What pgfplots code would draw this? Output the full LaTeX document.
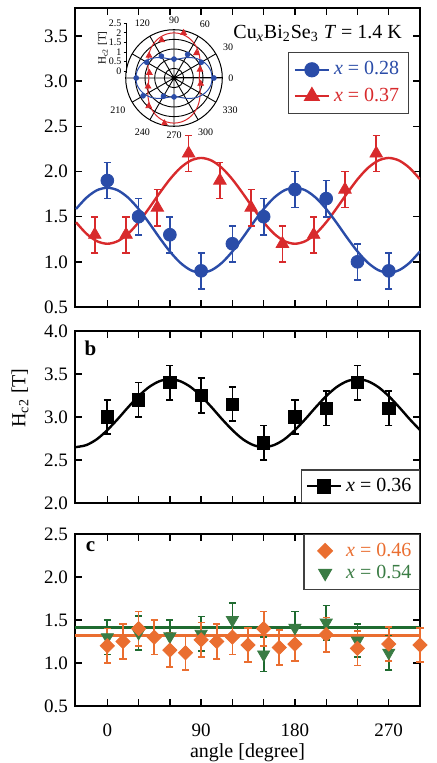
\documentclass[border=0pt]{standalone}
\usepackage{fontspec}
\setmainfont{Liberation Serif}
\usepackage{pgfplots}
\pgfplotsset{compat=1.18}
\usepgfplotslibrary{polar}

\definecolor{cblue}{HTML}{2A4CA8}
\definecolor{cred}{HTML}{D82A2C}
\definecolor{corange}{HTML}{EA6E30}
\definecolor{cgreen}{HTML}{3A7C44}
\definecolor{cdgreen}{HTML}{1F6B30}

\pgfplotsset{
  panel/.style={
    scale only axis, width=172.5pt,
    xmin=-31, xmax=300,
    xtick={0,30,...,270}, xticklabels={},
    tick align=inside, major tick length=3.5pt,
    axis line style={line width=0.8pt},
    tick style={line width=0.7pt, black},
    tick label style={font=\fontsize{9.5}{11}\selectfont},
    yticklabel style={/pgf/number format/.cd, fixed, fixed zerofill, precision=1},
    /pgf/number format/assume math mode=true,
    legend style={draw=black!75, line width=0.7pt, font=\fontsize{10}{12}\selectfont,
      cells={anchor=west}, inner sep=2pt, row sep=0pt},
    legend image code/.code={\draw[mark repeat=2,mark phase=2,#1]
      plot coordinates {(0pt,0pt) (8.5pt,0pt) (17pt,0pt)};},
  },
  errb/.style={error bars/.cd, y dir=both, y explicit,
    error bar style={line width=0.85pt, #1},
    error mark options={rotate=90, mark size=1.8pt, line width=0.85pt, #1}},
}

\begin{document}
\begin{tikzpicture}
\useasboundingbox (0,0) rectangle (218pt,-381.5pt);

% panel a
\begin{axis}[panel, at={(37.5pt,-4pt)}, anchor=north west,
  height=149.5pt, ymin=0.5, ymax=3.81, ytick={0.5,1,...,3.5},
  legend style={at={(0.968,0.853)}, anchor=north east, inner sep=2.5pt, row sep=1pt}]
\addlegendimage{cblue, line width=1.2pt, mark=*, mark size=3.2pt}
\addlegendentry{\textcolor{cblue}{\textit{x} = 0.28}}
\addlegendimage{cred, line width=1.2pt, mark=triangle*, mark size=3.6pt}
\addlegendentry{\textcolor{cred}{\textit{x} = 0.37}}

\addplot[cred, line width=1.2pt, smooth, forget plot] coordinates {
(-30,1.438) (-20,1.311) (-10,1.229) (0,1.200) (10,1.229) (20,1.311) (30,1.438)
(40,1.593) (50,1.758) (60,1.913) (70,2.039) (80,2.121) (90,2.150) (100,2.121)
(110,2.039) (120,1.913) (130,1.758) (140,1.593) (150,1.438) (160,1.311)
(170,1.229) (180,1.200) (190,1.229) (200,1.311) (210,1.438) (220,1.593)
(230,1.758) (240,1.913) (250,2.039) (260,2.121) (270,2.150) (280,2.121)
(290,2.039) (300,1.913)};
\addplot[cblue, line width=1.2pt, smooth, forget plot] coordinates {
(-30,1.585) (-20,1.710) (-10,1.792) (0,1.820) (10,1.792) (20,1.710) (30,1.585)
(40,1.432) (50,1.268) (60,1.115) (70,0.990) (80,0.908) (90,0.880) (100,0.908)
(110,0.990) (120,1.115) (130,1.268) (140,1.432) (150,1.585) (160,1.710)
(170,1.792) (180,1.820) (190,1.792) (200,1.710) (210,1.585) (220,1.432)
(230,1.268) (240,1.115) (250,0.990) (260,0.908) (270,0.880) (280,0.908)
(290,0.990) (300,1.115)};

\addplot[only marks, cred, mark=triangle*, mark size=3.6pt, forget plot, errb=cred]
  table[x index=0, y index=1, y error index=2] {
-12 1.3 0.2
18 1.3 0.2
48 1.6 0.2
78 2.2 0.2
108 1.9 0.2
138 1.6 0.2
168 1.2 0.2
198 1.3 0.2
228 1.8 0.2
258 2.2 0.2
};
\addplot[only marks, cblue, mark=*, mark size=3.2pt, forget plot, errb=cblue]
  table[x index=0, y index=1, y error index=2] {
0 1.9 0.2
30 1.5 0.2
60 1.3 0.2
90 0.9 0.2
120 1.2 0.2
150 1.5 0.2
180 1.8 0.2
210 1.7 0.2
240 1.0 0.2
270 0.9 0.2
};
\node[anchor=east, font=\fontsize{10}{12}\selectfont] at (axis description cs:0.968,0.916)
  {Cu\textsubscript{\textit{x}}Bi\textsubscript{2}Se\textsubscript{3} \textit{T} = 1.4 K};
\end{axis}

% inset polar
\begin{polaraxis}[at={(87pt,-39pt)}, anchor=center, scale only axis, width=48.3pt,
  ymin=0, ymax=2.3, ytick={0.46,0.92,1.38,1.84}, yticklabels={},
  xtick={0,30,...,330},
  xticklabels={0,30,60,90,120,,,210,240,270,300,330},
  xticklabel style={font=\fontsize{5}{6}\selectfont, inner sep=2.8pt},
  /pgf/number format/assume math mode=true,
  major tick length=0pt, grid=major,
  major grid style={black, line width=0.45pt},
  axis line style={black, line width=0.5pt}]
\addplot[cred, line width=0.5pt, smooth] coordinates {
(0,1.200) (10,1.229) (20,1.311) (30,1.438) (40,1.593) (50,1.758) (60,1.913)
(70,2.039) (80,2.121) (90,2.150) (100,2.121) (110,2.039) (120,1.913) (130,1.758)
(140,1.593) (150,1.438) (160,1.311) (170,1.229) (180,1.200) (190,1.229)
(200,1.311) (210,1.438) (220,1.593) (230,1.758) (240,1.913) (250,2.039)
(260,2.121) (270,2.150) (280,2.121) (290,2.039) (300,1.913) (310,1.758)
(320,1.593) (330,1.438) (340,1.311) (350,1.229) (360,1.200)};
\addplot[cblue, line width=0.5pt, smooth] coordinates {
(0,1.820) (10,1.792) (20,1.710) (30,1.585) (40,1.432) (50,1.268) (60,1.115)
(70,0.990) (80,0.908) (90,0.880) (100,0.908) (110,0.990) (120,1.115) (130,1.268)
(140,1.432) (150,1.585) (160,1.710) (170,1.792) (180,1.820) (190,1.792)
(200,1.710) (210,1.585) (220,1.432) (230,1.268) (240,1.115) (250,0.990)
(260,0.908) (270,0.880) (280,0.908) (290,0.990) (300,1.115) (310,1.268)
(320,1.432) (330,1.585) (340,1.710) (350,1.792) (360,1.820)};
\addplot[only marks, cred, mark=triangle*, mark size=1.6pt] coordinates {
(348,1.3) (18,1.3) (48,1.6) (78,2.2) (108,1.9) (138,1.6) (168,1.2) (198,1.3) (228,1.8) (258,2.2)};
\addplot[only marks, cblue, mark=*, mark size=1.2pt] coordinates {
(0,1.9) (30,1.5) (60,1.3) (90,0.9) (120,1.2) (150,1.5) (180,1.8) (210,1.7) (240,1.0) (270,0.9)};
\end{polaraxis}

% inset radial ruler
\begin{axis}[at={(63.35pt,-36.5pt)}, anchor=south west, scale only axis,
  width=0.1pt, height=24.9pt, xmin=0, xmax=1, ymin=-0.1, ymax=2.5,
  hide x axis, axis y line*=left, y axis line style={-, line width=0.45pt},
  ytick={0,0.5,1,1.5,2,2.5}, yticklabels={0,0.5,1,1.5,2,2.5},
  tick align=outside, major tick length=1.5pt, tick style={line width=0.4pt, black},
  tick label style={font=\fontsize{5}{6}\selectfont, inner sep=1pt},
  /pgf/number format/assume math mode=true,
  ylabel={H\textsubscript{c2} [T]}, ylabel style={font=\fontsize{5.5}{6}\selectfont, yshift=-4pt}]
\end{axis}

% panel b
\begin{axis}[panel, at={(37.5pt,-165.5pt)}, anchor=north west,
  height=86pt, ymin=2, ymax=4, ytick={2,2.5,...,4},
  legend style={at={(1,0)}, anchor=south east}]
\addlegendimage{black, line width=1.2pt, mark=square*, mark size=3.1pt}
\addlegendentry{\textit{x} = 0.36}
\addplot[black, line width=1.2pt, smooth, forget plot] coordinates {
(-30,2.650) (-20,2.674) (-10,2.742) (0,2.848) (10,2.976) (20,3.114) (30,3.243)
(40,3.348) (50,3.416) (60,3.440) (70,3.416) (80,3.348) (90,3.243) (100,3.114)
(110,2.976) (120,2.848) (130,2.742) (140,2.674) (150,2.650) (160,2.674)
(170,2.742) (180,2.848) (190,2.976) (200,3.114) (210,3.243) (220,3.348)
(230,3.416) (240,3.440) (250,3.416) (260,3.348) (270,3.243) (280,3.114)
(290,2.976) (300,2.848)};
\addplot[only marks, black, mark=square*, mark size=3.1pt, forget plot, errb=black]
  table[x index=0, y index=1, y error index=2] {
0 3.0 0.2
30 3.2 0.2
60 3.4 0.2
90 3.25 0.2
120 3.15 0.2
150 2.7 0.2
180 3.0 0.2
210 3.1 0.2
240 3.4 0.2
270 3.1 0.2
};
\node[font=\bfseries\fontsize{10.5}{12}\selectfont] at (axis description cs:0.045,0.9) {b};
\end{axis}

% panel c
\begin{axis}[panel, at={(37.5pt,-267pt)}, anchor=north west,
  height=86pt, ymin=0.5, ymax=2.5, ytick={0.5,1,...,2.5}, clip=false,
  xticklabels={0,,,90,,,180,,,270},
  xticklabel style={yshift=-5.5pt},
  xlabel={angle [degree]}, xlabel style={font=\fontsize{10}{12}\selectfont, yshift=3.5pt},
  legend style={at={(1,1)}, anchor=north east, row sep=-1pt},
  legend image code/.code={\path[draw=none] (0pt,0pt) -- (17pt,0pt);
    \draw[#1, draw opacity=0] plot coordinates {(8.5pt,0pt)};}]
\addlegendimage{only marks, corange, mark=square*, mark size=2.5pt,
  mark options={rotate=45, draw opacity=1}}
\addlegendentry{\textcolor{corange}{\textit{x} = 0.46}}
\addlegendimage{only marks, cgreen, mark=triangle*, mark size=3.5pt,
  mark options={rotate=180, draw opacity=1}}
\addlegendentry{\textcolor{cgreen}{\textit{x} = 0.54}}
\addplot[cdgreen, line width=1.5pt, forget plot] coordinates {(-31,1.41) (300,1.41)};
\addplot[corange, line width=1.5pt, forget plot] coordinates {(-31,1.32) (300,1.32)};
\addplot[only marks, cgreen, mark=triangle*, mark size=3.5pt, mark options={rotate=180},
  forget plot, errb=cdgreen]
  table[x index=0, y index=1, y error index=2] {
0 1.30 0.2
30 1.35 0.2
60 1.31 0.19
90 1.34 0.2
120 1.50 0.2
150 1.10 0.2
180 1.41 0.19
210 1.47 0.2
240 1.26 0.19
270 1.12 0.2
};
\addplot[only marks, corange, mark=square*, mark size=2.5pt, mark options={rotate=45},
  forget plot, errb=corange]
  table[x index=0, y index=1, y error index=2] {
0 1.20 0.2
15 1.25 0.2
30 1.40 0.2
45 1.30 0.2
60 1.15 0.2
75 1.12 0.2
90 1.27 0.2
105 1.25 0.2
120 1.30 0.2
135 1.21 0.2
150 1.40 0.2
165 1.18 0.2
180 1.22 0.2
210 1.33 0.2
240 1.17 0.2
270 1.22 0.2
300 1.21 0.2
};
\node[font=\bfseries\fontsize{10.5}{12}\selectfont] at (axis description cs:0.045,0.925) {c};
\end{axis}

\node[rotate=90, font=\fontsize{10}{12}\selectfont] at (10pt,-199pt) {H\textsubscript{c2} [T]};
\end{tikzpicture}
\end{document}
